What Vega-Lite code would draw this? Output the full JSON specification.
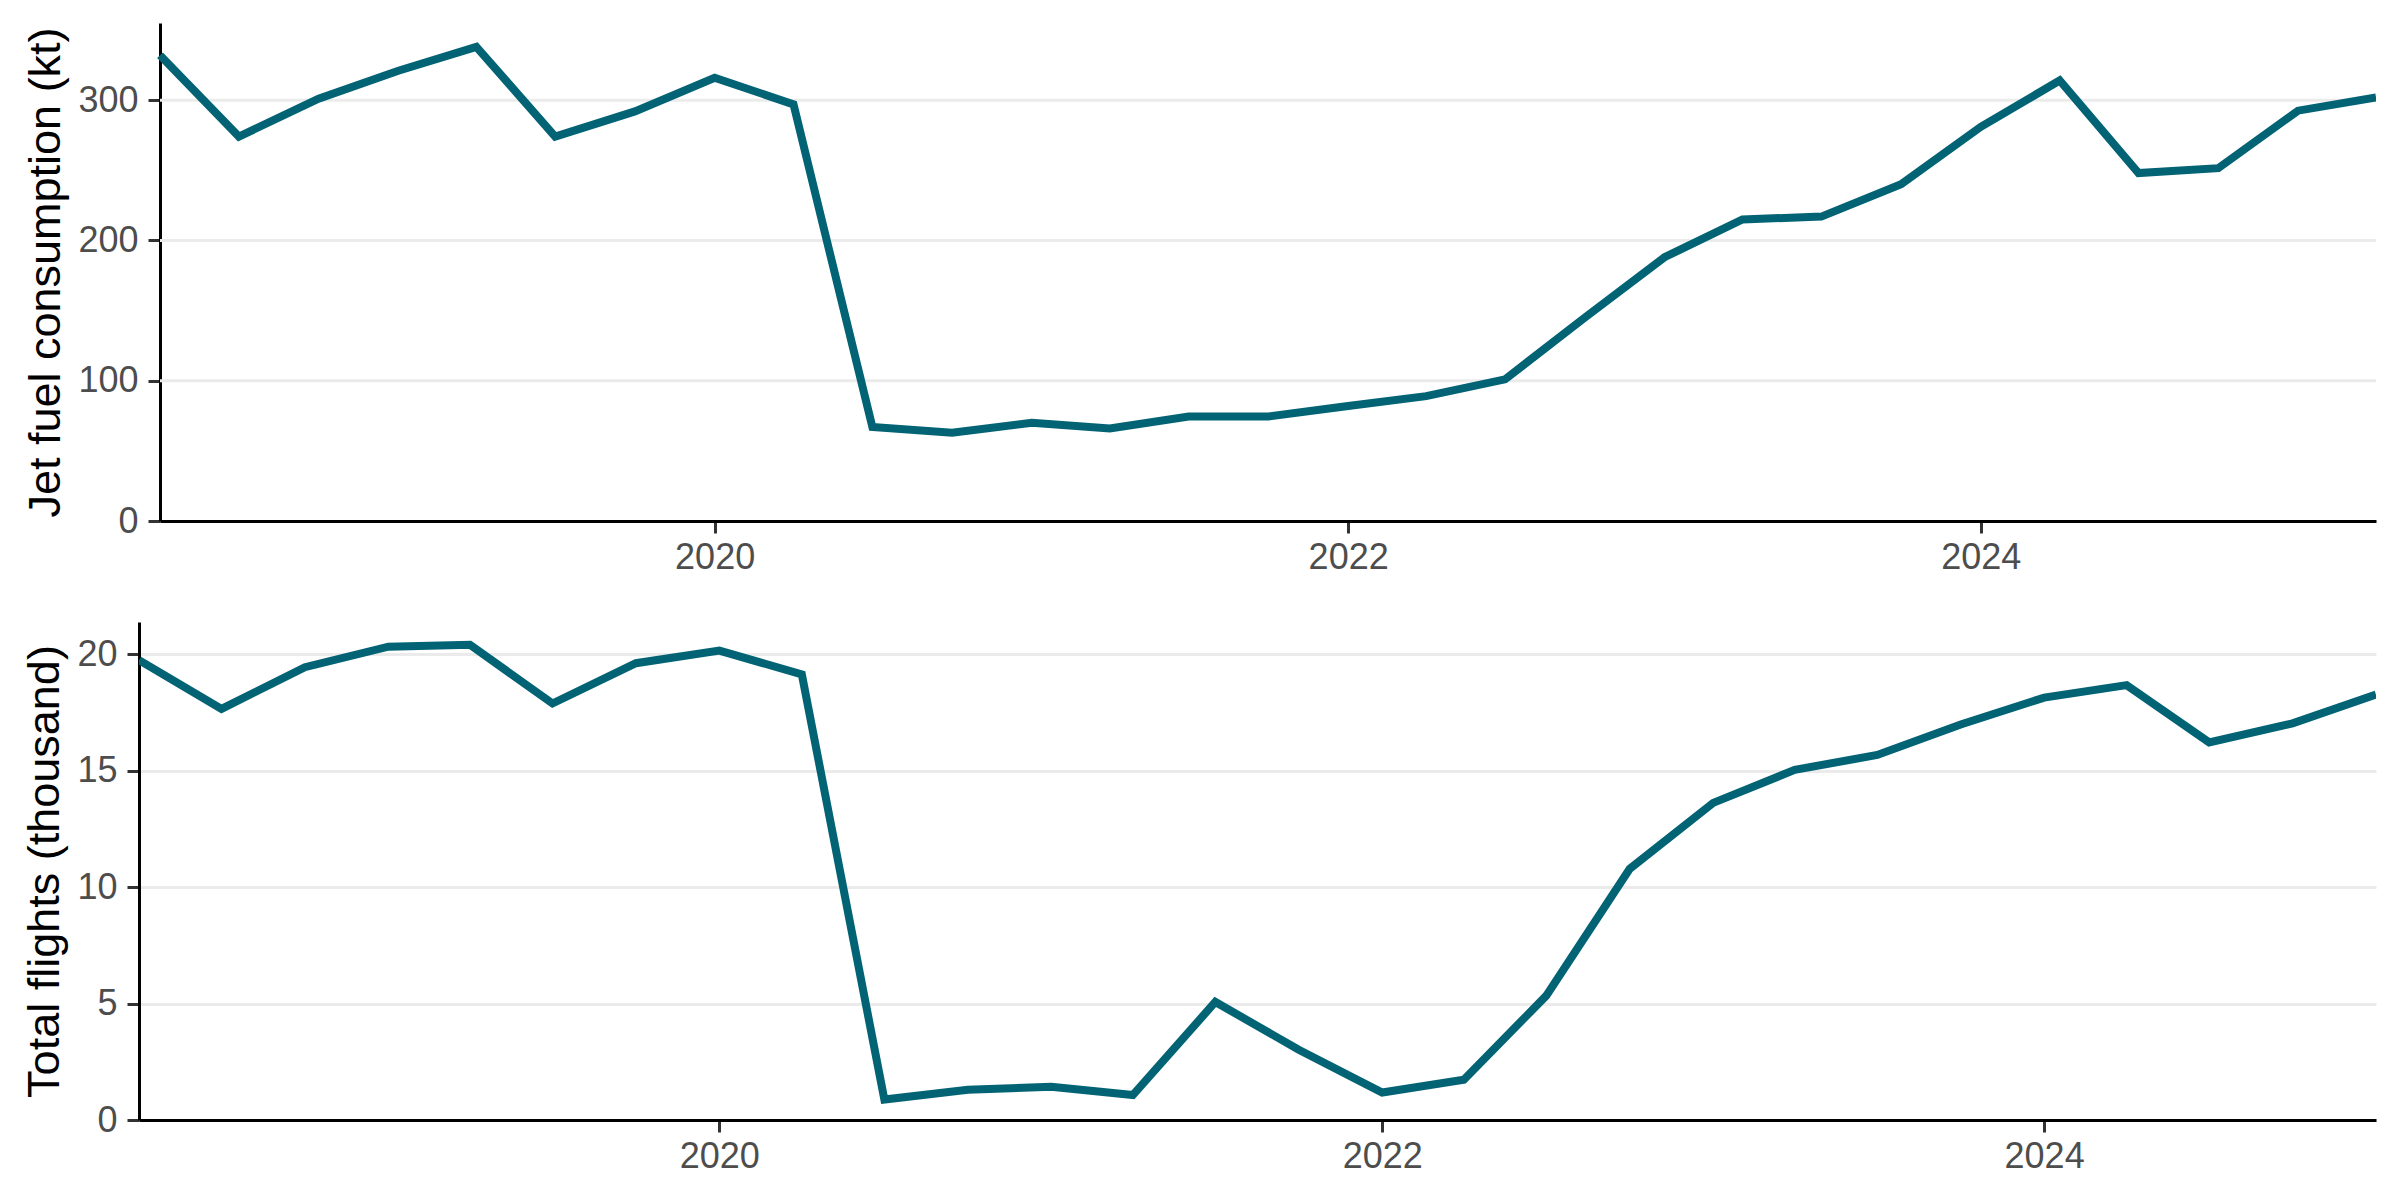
{
  "$schema": "https://vega.github.io/schema/vega-lite/v6.json",
  "padding": {"left": 22, "top": 23, "right": 0, "bottom": 0},
  "spacing": 47,
  "config": {
    "view": {"stroke": null},
    "axis": {
      "labelFont": "Liberation Sans",
      "labelFontSize": 36,
      "labelColor": "#4D4D4D",
      "titleFont": "Liberation Sans",
      "titleFontSize": 45,
      "titleFontWeight": "normal",
      "titleColor": "#000000",
      "domainColor": "#000000",
      "domainWidth": 3,
      "tickColor": "#333333",
      "tickWidth": 3,
      "tickSize": 12,
      "gridColor": "#EBEBEB",
      "gridWidth": 3
    }
  },
  "datasets": {
    "fuel": [
      {"date": "2018-04-01", "value": 332},
      {"date": "2018-07-01", "value": 274},
      {"date": "2018-10-01", "value": 301},
      {"date": "2019-01-01", "value": 321},
      {"date": "2019-04-01", "value": 338},
      {"date": "2019-07-01", "value": 274},
      {"date": "2019-10-01", "value": 292},
      {"date": "2020-01-01", "value": 316},
      {"date": "2020-04-01", "value": 297},
      {"date": "2020-07-01", "value": 67},
      {"date": "2020-10-01", "value": 63},
      {"date": "2021-01-01", "value": 70},
      {"date": "2021-04-01", "value": 66},
      {"date": "2021-07-01", "value": 74.5},
      {"date": "2021-10-01", "value": 74.5},
      {"date": "2022-01-01", "value": 82},
      {"date": "2022-04-01", "value": 89},
      {"date": "2022-07-01", "value": 101},
      {"date": "2022-10-01", "value": 145},
      {"date": "2023-01-01", "value": 188},
      {"date": "2023-04-01", "value": 215},
      {"date": "2023-07-01", "value": 217},
      {"date": "2023-10-01", "value": 240},
      {"date": "2024-01-01", "value": 281},
      {"date": "2024-04-01", "value": 314},
      {"date": "2024-07-01", "value": 248},
      {"date": "2024-10-01", "value": 251.5},
      {"date": "2025-01-01", "value": 292.5},
      {"date": "2025-04-01", "value": 302}
    ],
    "flights": [
      {"date": "2018-04-01", "value": 19.75},
      {"date": "2018-07-01", "value": 17.66},
      {"date": "2018-10-01", "value": 19.45},
      {"date": "2019-01-01", "value": 20.33},
      {"date": "2019-04-01", "value": 20.41},
      {"date": "2019-07-01", "value": 17.89},
      {"date": "2019-10-01", "value": 19.62},
      {"date": "2020-01-01", "value": 20.16},
      {"date": "2020-04-01", "value": 19.14},
      {"date": "2020-07-01", "value": 0.88},
      {"date": "2020-10-01", "value": 1.3},
      {"date": "2021-01-01", "value": 1.43},
      {"date": "2021-04-01", "value": 1.07},
      {"date": "2021-07-01", "value": 5.07},
      {"date": "2021-10-01", "value": 3.02},
      {"date": "2022-01-01", "value": 1.18},
      {"date": "2022-04-01", "value": 1.73},
      {"date": "2022-07-01", "value": 5.34},
      {"date": "2022-10-01", "value": 10.79},
      {"date": "2023-01-01", "value": 13.62},
      {"date": "2023-04-01", "value": 15.04},
      {"date": "2023-07-01", "value": 15.68},
      {"date": "2023-10-01", "value": 16.99},
      {"date": "2024-01-01", "value": 18.14},
      {"date": "2024-04-01", "value": 18.68},
      {"date": "2024-07-01", "value": 16.22},
      {"date": "2024-10-01", "value": 17.04},
      {"date": "2025-01-01", "value": 18.27}
    ]
  },
  "vconcat": [
    {
      "width": 2237,
      "height": 498,
      "layer": [
        {
          "data": {"values": [{"tick": 100}, {"tick": 200}, {"tick": 300}]},
          "mark": {"type": "rule", "color": "#EBEBEB", "strokeWidth": 3},
          "encoding": {
            "x": {"datum": {"year": 2018, "month": 4, "date": 1, "utc": true}, "type": "temporal"},
            "x2": {"datum": {"year": 2025, "month": 4, "date": 1, "utc": true}},
            "y": {"field": "tick", "type": "quantitative"}
          }
        },
        {
          "data": {"name": "fuel"},
          "mark": {"type": "line", "color": "#026374", "strokeWidth": 8, "clip": true},
          "encoding": {
            "x": {
              "field": "date",
              "type": "temporal",
              "scale": {
                "type": "utc",
                "range": [21, 2237],
                "domain": [
                  {"year": 2018, "month": 4, "date": 1, "utc": true},
                  {"year": 2025, "month": 4, "date": 1, "utc": true}
                ]
              },
              "axis": {
                "title": null,
                "grid": false,
                "format": "%Y",
                "formatType": "utc",
                "labelPadding": 7,
                "values": [
                  {"year": 2020, "month": 1, "date": 1, "utc": true},
                  {"year": 2022, "month": 1, "date": 1, "utc": true},
                  {"year": 2024, "month": 1, "date": 1, "utc": true}
                ]
              }
            },
            "y": {
              "field": "value",
              "type": "quantitative",
              "scale": {"domain": [0, 355], "nice": false, "zero": true},
              "axis": {
                "title": "Jet fuel consumption (kt)",
                "grid": false,
                "offset": -21,
                "values": [0, 100, 200, 300],
                "labelPadding": 10,
                "titlePadding": 9
              }
            }
          }
        }
      ]
    },
    {
      "width": 2237,
      "height": 498,
      "data": {"name": "flights"},
      "mark": {"type": "line", "color": "#026374", "strokeWidth": 8, "clip": true},
      "encoding": {
        "x": {
          "field": "date",
          "type": "temporal",
          "scale": {
            "type": "utc",
            "domain": [
              {"year": 2018, "month": 4, "date": 1, "utc": true},
              {"year": 2025, "month": 1, "date": 1, "utc": true}
            ]
          },
          "axis": {
            "title": null,
            "grid": false,
            "format": "%Y",
            "formatType": "utc",
            "labelPadding": 7,
            "values": [
              {"year": 2020, "month": 1, "date": 1, "utc": true},
              {"year": 2022, "month": 1, "date": 1, "utc": true},
              {"year": 2024, "month": 1, "date": 1, "utc": true}
            ]
          }
        },
        "y": {
          "field": "value",
          "type": "quantitative",
          "scale": {"domain": [0, 21.39], "nice": false, "zero": true},
          "axis": {
            "title": "Total flights (thousand)",
            "grid": true,
            "values": [0, 5, 10, 15, 20],
            "labelPadding": 10,
            "titlePadding": 9
          }
        }
      }
    }
  ]
}
